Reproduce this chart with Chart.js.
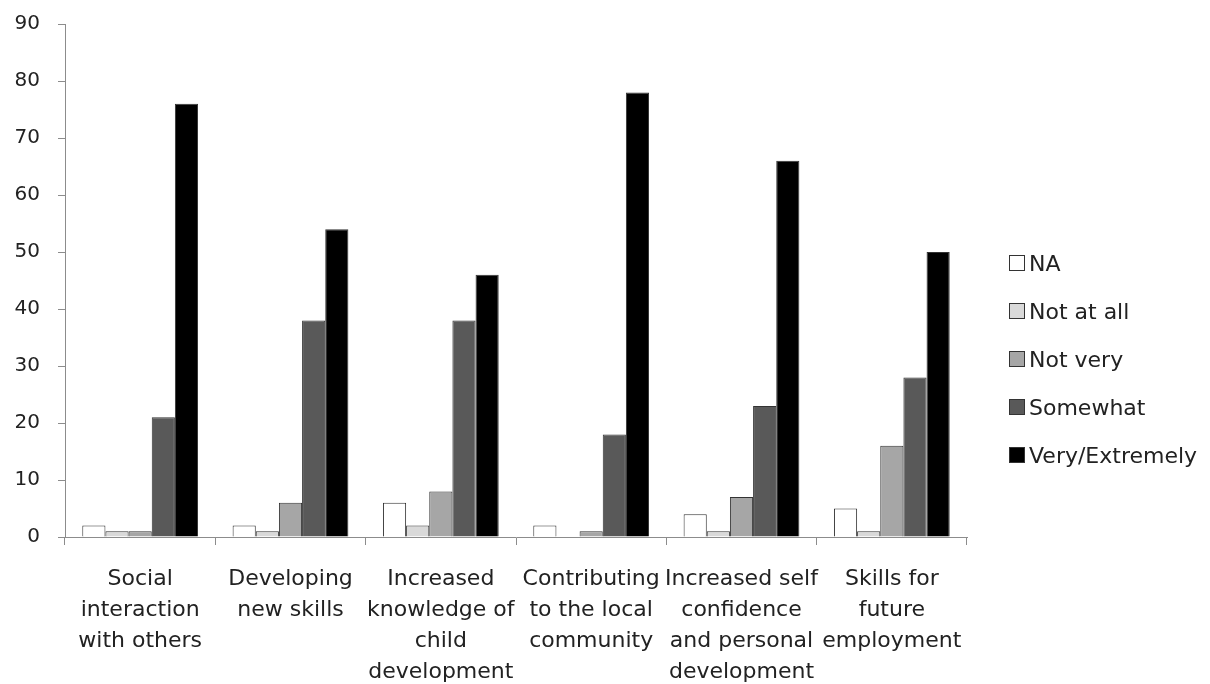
<!DOCTYPE html>
<html>
<head>
<meta charset="utf-8">
<script src="https://cdn.jsdelivr.net/npm/chart.js@4"></script>
<style>
  body { margin: 0; background: #fff; }
  #wrap { position: relative; width: 1210px; height: 684px; overflow: hidden; }
  #legend { position: absolute; left: 1009px; top: 239px; font-family: "DejaVu Sans", sans-serif; font-size: 22px; color: #222; }
  #legend div { height: 48px; display: flex; align-items: center; white-space: nowrap; }
  #legend span.box { display: inline-block; width: 14px; height: 14px; border: 1px solid #333; margin-right: 4px; }
</style>
</head>
<body>
<div id="wrap">
  <canvas id="chart" width="1210" height="684"></canvas>
  <div id="legend"></div>
</div>
<script>
const categories = [
  ["Social", "interaction", "with others"],
  ["Developing", "new skills"],
  ["Increased", "knowledge of", "child", "development"],
  ["Contributing", "to the local", "community"],
  ["Increased self", "confidence", "and personal", "development"],
  ["Skills for", "future", "employment"],
];
const seriesNames = ["NA", "Not at all", "Not very", "Somewhat", "Very/Extremely"];
const naValues = [2, 2, 6, 2, 4, 5];
const notAtAllValues = [1, 1, 2, 0, 1, 1];
const notVeryValues = [1, 6, 8, 1, 7, 16];
const somewhatValues = [21, 38, 38, 18, 23, 28];
const veryValues = [76, 54, 46, 78, 66, 50];
const yTicks = [0, 10, 20, 30, 40, 50, 60, 70, 80, 90];

const colors = ["#ffffff", "#d9d9d9", "#a6a6a6", "#595959", "#000000"];
const allValues = [naValues, notAtAllValues, notVeryValues, somewhatValues, veryValues];

const datasets = seriesNames.map((name, i) => ({
  label: name,
  data: allValues[i],
  backgroundColor: colors[i],
  borderColor: "#333333",
  borderWidth: 1,
  categoryPercentage: 0.77,
  barPercentage: 1,
}));

const family = "'DejaVu Sans', sans-serif";

new Chart(document.getElementById("chart"), {
  type: "bar",
  data: { labels: categories, datasets: datasets },
  options: {
    responsive: false,
    animation: false,
    layout: { padding: { top: 24, right: 243, left: 0, bottom: 0 } },
    plugins: { legend: { display: false }, tooltip: { enabled: false } },
    scales: {
      x: {
        offset: true,
        grid: { display: true, drawOnChartArea: false, drawTicks: true, tickLength: 8, offset: true, color: "#8c8c8c" },
        border: { color: "#8c8c8c", width: 1 },
        ticks: { color: "#222", font: { family: family, size: 22, lineHeight: 1.41 }, padding: 19, maxRotation: 0, autoSkip: false },
        afterFit: (scale) => { scale.height = 147; scale.paddingLeft = 0; scale.paddingRight = 0; },
      },
      y: {
        min: 0,
        max: 90,
        afterBuildTicks: (scale) => { scale.ticks = yTicks.map((v) => ({ value: v })); },
        grid: { display: true, drawOnChartArea: false, drawTicks: true, tickLength: 7, color: "#8c8c8c" },
        border: { color: "#8c8c8c", width: 1 },
        ticks: { color: "#222", font: { family: family, size: 20 }, padding: 18 },
        afterFit: (scale) => { scale.width = 65; scale.paddingTop = 0; scale.paddingBottom = 0; },
      },
    },
  },
});

// legend as html
const legend = document.getElementById("legend");
seriesNames.forEach((name, i) => {
  const row = document.createElement("div");
  row.innerHTML = '<span class="box" style="background:' + colors[i] + '"></span>' + name;
  legend.appendChild(row);
});
</script>
</body>
</html>
